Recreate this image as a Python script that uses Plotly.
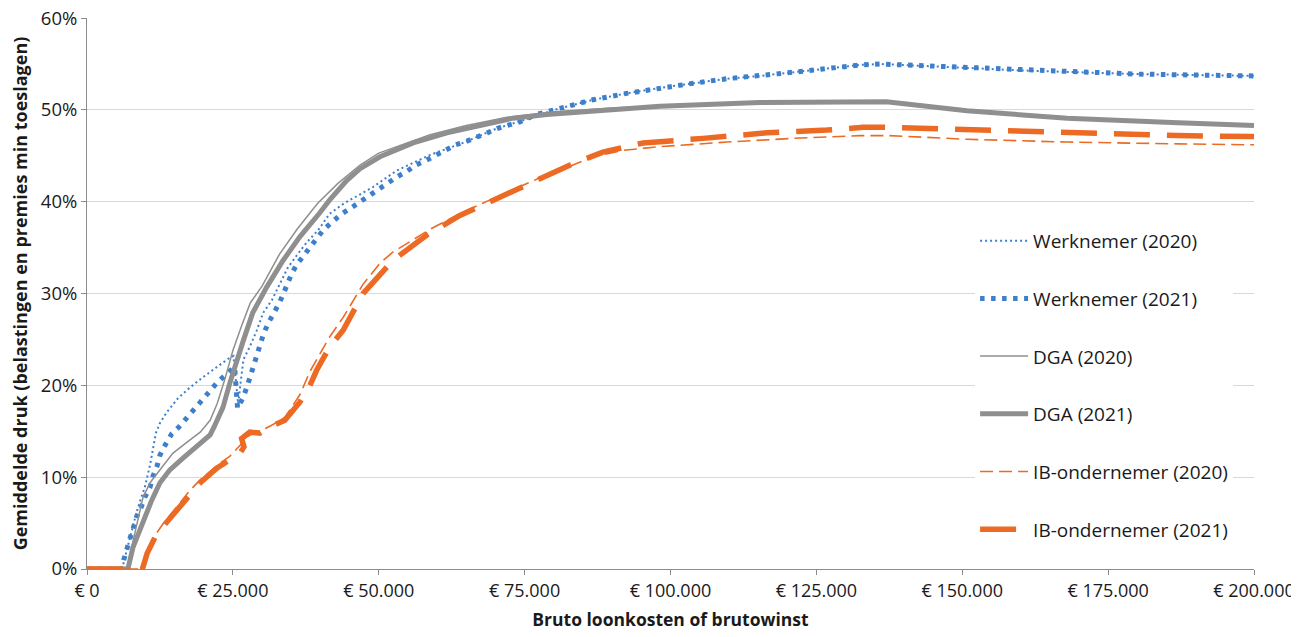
import plotly.graph_objects as go

# ---- data (income in euro, average pressure in percent) ----
wn20_x = [0, 6000, 6400, 7000, 7700, 8500, 9200, 9900, 10800, 11300, 11800, 12500, 13700, 15600, 17700,
          19900, 22300, 24200, 25100, 25900, 26800, 27900, 29100, 30200, 31700, 33100, 34400, 36000, 37700,
          39600, 41600, 44000, 47000, 49000, 53100, 58800, 64400, 70300, 75900, 80000, 86700, 92500, 98200,
          103900, 109700, 115300, 121000, 126800, 132500, 136000, 140000, 150000, 160000, 170000, 180000,
          190000, 200000]
wn20_y = [0, 0, 1.0, 2.5, 4.2, 6.2, 7.6, 8.9, 11.3, 13.2, 14.8, 15.9, 17.1, 18.6, 19.8,
          20.9, 22.0, 22.9, 23.2, 18.0, 22.8, 24.2, 26.0, 27.9, 29.3, 31.1, 32.8, 34.2, 35.6,
          36.9, 38.7, 39.8, 40.9, 41.6, 43.4, 45.1, 46.4, 48.0, 49.1, 50.0, 51.1, 51.8, 52.4,
          52.9, 53.4, 53.7, 54.1, 54.5, 54.9, 55.0, 54.9, 54.6, 54.3, 54.1, 53.9,
          53.8, 53.7]

wn21_x = [0, 6000, 6300, 6900, 7400, 7900, 8500, 9200, 9900, 10800, 11300, 12000, 12500, 13400, 14500,
          15800, 17100, 18300, 19500, 20900, 22300, 24000, 25300, 25800, 26700, 27400, 27900, 28400, 29100,
          29600, 30200, 31000, 31900, 32900, 33600, 34300, 35100, 36000, 37200, 38200, 39400, 40600, 42200,
          43700, 45200, 46800, 48300, 49900, 51400, 53100, 54800, 56400, 58100, 59800, 61500, 63200, 65100,
          66800, 68600, 70400, 72200, 74200, 77000, 81000, 86700, 92500, 98200, 103900, 109700, 115300,
          121000, 126800, 132500, 136000, 140000, 150000, 160000, 170000, 180000, 190000, 200000]
wn21_y = [0, 0, 1.0, 2.1, 3.4, 4.4, 5.7, 6.6, 7.8, 8.9, 10.1, 11.2, 12.4, 13.5, 14.7,
          15.5, 16.5, 17.4, 18.3, 19.3, 20.3, 21.3, 22.0, 17.5, 18.6, 19.8, 20.9, 22.0, 23.3,
          24.4, 25.5, 26.7, 27.7, 28.9, 29.9, 31.1, 32.2, 33.2, 34.2, 35.2, 36.2, 37.0, 37.9,
          38.7, 39.3, 40.0, 40.6, 41.4, 42.0, 42.7, 43.3, 44.0, 44.5, 45.1, 45.6, 46.2, 46.6,
          47.0, 47.5, 48.0, 48.3, 48.7, 49.5, 50.2, 51.1, 51.8, 52.4, 52.9, 53.4, 53.7,
          54.1, 54.5, 54.9, 55.0, 54.9, 54.6, 54.3, 54.1, 53.9, 53.8, 53.7]

dga20_x = [0, 7000, 7800, 8600, 9600, 10800, 12500, 14700, 17100, 19400, 21100, 22300, 23600, 25000,
           26500, 28000, 30000, 33000, 36000, 39500, 43000, 46800, 50000, 53100, 58800, 65000, 72000,
           80000, 90000, 100000, 115000, 132500, 137000, 150800, 168000, 187000, 200000]
dga20_y = [0, 0, 2.8, 5.0, 7.8, 9.4, 10.8, 12.6, 13.8, 14.9, 16.2, 18.0, 20.6, 23.8,
           26.5, 29.0, 30.8, 34.3, 37.0, 39.8, 42.0, 44.0, 45.3, 46.0, 47.3, 48.3, 49.2,
           49.8, 50.2, 50.5, 50.8, 50.9, 50.9, 49.9, 49.1, 48.6, 48.3]

dga21_x = [0, 7000, 7900, 8800, 9900, 11100, 12500, 14200, 16500, 18800, 21100, 21800, 23300, 24500,
           25700, 26800, 28400, 30800, 33600, 36500, 39900, 41600, 44500, 46800, 50200, 55900, 61700,
           67400, 73000, 78800, 84500, 98200, 115300, 132500, 137000, 150800, 168000, 187000, 200000]
dga21_y = [0, 0, 2.4, 3.9, 5.7, 7.5, 9.4, 10.8, 12.1, 13.3, 14.6, 15.5, 17.6, 20.3,
           22.8, 24.9, 27.9, 30.7, 33.6, 36.2, 38.8, 40.2, 42.3, 43.6, 44.9, 46.4, 47.5,
           48.3, 49.1, 49.5, 49.8, 50.4, 50.8, 50.9, 50.9, 49.9, 49.1, 48.6, 48.3]

ib20_x = [0, 9500, 10300, 11700, 13000, 15100, 17700, 19400, 22300, 24500, 26200, 27000, 27900, 29600,
          31500, 33900, 36500, 38200, 41600, 43900, 47300, 50200, 52400, 58800, 63900, 69100, 77600,
          81000, 86700, 92000, 98200, 109700, 121000, 132500, 137500, 150800, 168000, 187000, 200000]
ib20_y = [0, 0, 1.9, 3.7, 4.9, 6.5, 8.6, 9.7, 11.3, 12.3, 13.4, 14.0, 14.6, 15.0,
          15.6, 16.5, 19.0, 21.5, 25.3, 27.4, 31.0, 33.3, 34.5, 37.0, 38.7, 40.2, 42.6,
          43.4, 44.9, 45.6, 46.0, 46.5, 46.9, 47.2, 47.2, 46.8, 46.5, 46.3, 46.2]

ib21_x = [0, 9500, 10300, 11700, 13000, 15100, 17700, 19400, 22300, 24500, 26200, 26900, 26500, 27900,
          29600, 31500, 33900, 36500, 38200, 39400, 41600, 43900, 47300, 52400, 58300, 63900, 69100,
          77600, 82800, 88400, 95300, 105600, 116500, 126800, 133000, 137500, 142200, 151800, 161100,
          170200, 179300, 186800, 200000]
ib21_y = [0, 0, 1.7, 3.5, 4.6, 6.2, 8.3, 9.4, 11.0, 11.9, 12.6, 13.3, 14.2, 14.9,
          14.8, 15.5, 16.2, 18.2, 20.0, 21.7, 24.2, 26.0, 30.0, 33.6, 36.4, 38.5, 40.0,
          42.4, 44.0, 45.4, 46.4, 46.9, 47.5, 47.8, 48.1, 48.1, 48.0, 47.8, 47.6,
          47.5, 47.3, 47.2, 47.1]

x_tickvals = [0, 25000, 50000, 75000, 100000, 125000, 150000, 175000, 200000]
x_ticktext = ["€ 0", "€ 25.000", "€ 50.000", "€ 75.000", "€ 100.000", "€ 125.000",
              "€ 150.000", "€ 175.000", "€ 200.000"]
y_tickvals = [0, 0.1, 0.2, 0.3, 0.4, 0.5, 0.6]
y_ticktext = ["0%", "10%", "20%", "30%", "40%", "50%", "60%"]

BLUE = "#3E7FCB"
GRAY = "#8F8F8F"
ORANGE = "#EC6A23"

series = [
    ("Werknemer (2020)", wn20_x, wn20_y, dict(color=BLUE, width=2, dash="2px,3px")),
    ("Werknemer (2021)", wn21_x, wn21_y, dict(color=BLUE, width=5, dash="4.5px,6.5px")),
    ("DGA (2020)", dga20_x, dga20_y, dict(color=GRAY, width=1.5)),
    ("DGA (2021)", dga21_x, dga21_y, dict(color=GRAY, width=5)),
    ("IB-ondernemer (2020)", ib20_x, ib20_y, dict(color=ORANGE, width=1.6, dash="13px,6px")),
    ("IB-ondernemer (2021)", ib21_x, ib21_y, dict(color=ORANGE, width=5.5, dash="36px,17px")),
]

fig = go.Figure()
for name, xs, ys, line in series:
    fig.add_trace(go.Scatter(
        x=xs, y=[v / 100 for v in ys], mode="lines", name=name,
        line=line, legendgroup=name,
    ))

FONT = "Open Sans"
TXT = "#1a1a1a"
fig.update_layout(
    width=1299, height=637,
    margin=dict(l=79, r=53, t=10, b=76),
    paper_bgcolor="white", plot_bgcolor="white",
    font=dict(family=FONT, size=18, color=TXT),
    showlegend=True,
    legend=dict(
        x=0.761, y=0.63, xanchor="left", yanchor="top",
        bgcolor="white", borderwidth=0,
        font=dict(family=FONT, size=19, color=TXT),
        tracegroupgap=30, itemwidth=48,
    ),
    xaxis=dict(
        range=[0, 200000], tickvals=x_tickvals, ticktext=x_ticktext,
        showgrid=False, zeroline=False, automargin=False,
        showline=True, linecolor="#8c8c8c", linewidth=1,
        ticks="outside", ticklen=5, tickcolor="#8c8c8c",
        ticklabeloverflow="allow",
        tickfont=dict(family=FONT, size=18, color=TXT),
        title=dict(text="<b>Bruto loonkosten of brutowinst</b>",
                   font=dict(family=FONT, size=17.5, color=TXT), standoff=13),
    ),
    yaxis=dict(
        range=[0, 0.6001], tickvals=y_tickvals, ticktext=y_ticktext,
        showgrid=True, gridcolor="#d9d9d9", gridwidth=1, zeroline=False, automargin=False,
        showline=True, linecolor="#8c8c8c", linewidth=1,
        ticks="outside", ticklen=5, tickcolor="#8c8c8c",
        ticklabeloverflow="allow",
        tickfont=dict(family=FONT, size=18.5, color=TXT),
        title=dict(text="<b>Gemiddelde druk (belastingen en premies min toeslagen)</b>",
                   font=dict(family=FONT, size=18, color=TXT), standoff=17),
    ),
)

fig.write_html("out.html")
